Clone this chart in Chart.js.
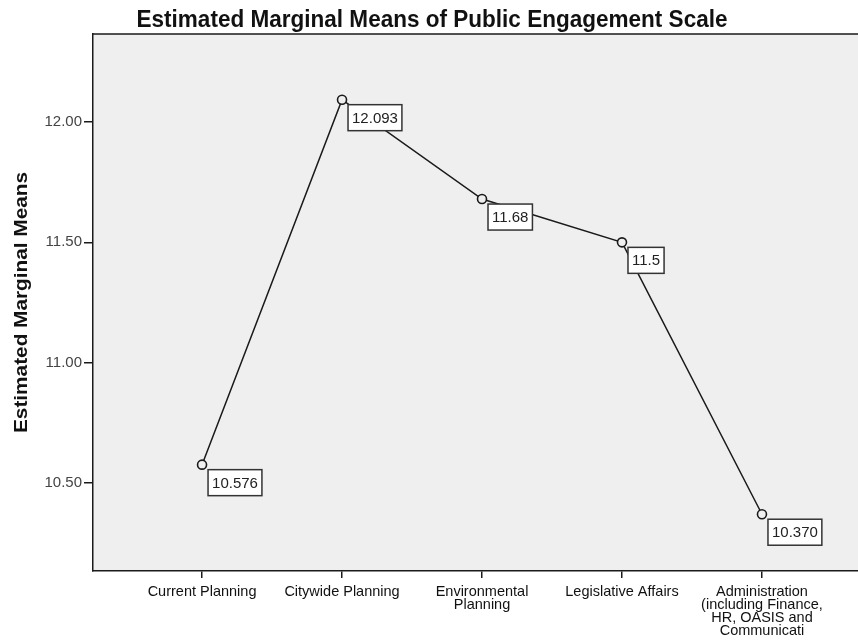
<!DOCTYPE html>
<html>
<head>
<meta charset="utf-8">
<script src="https://cdn.jsdelivr.net/npm/chart.js@4.4.1/dist/chart.umd.min.js"></script>
<style>
  html, body { margin: 0; padding: 0; background: #fff; }
  canvas { display: block; }
</style>
</head>
<body>
<canvas id="meansChart" width="858" height="642"></canvas>
<script>
// Department groups (x axis) and the estimated marginal means for each
var departments = [
    'Current Planning',
    'Citywide Planning',
    ['Environmental', 'Planning'],
    'Legislative Affairs',
    ['Administration', '(including Finance,', 'HR, OASIS and', 'Communicati']
];
var means = [10.576, 12.093, 11.68, 11.5, 10.370];
var meanLabels = ['10.576', '12.093', '11.68', '11.5', '10.370'];
var yTicks = [10.5, 11.0, 11.5, 12.0];

var chartTitle = 'Estimated Marginal Means of Public Engagement Scale';
var yTitle = 'Estimated Marginal Means';

var plotBg = '#efefef';
var ink = '#1a1a1a';
var sans = '"Liberation Sans", Arial, sans-serif';

var points = means.map(function (m, i) { return { x: i, y: m }; });

// draw text squeezed/stretched along its own direction to a given length
function fitText(ctx, txt, x, y, len) {
    var w = ctx.measureText(txt).width;
    ctx.save();
    ctx.translate(x, y);
    ctx.scale(len / w, 1);
    ctx.fillText(txt, 0, 0);
    ctx.restore();
}

// plot background, top frame line, heading and y axis title
var framePlugin = {
    id: 'frame',
    beforeDraw: function (chart) {
        var ctx = chart.ctx, a = chart.chartArea;
        ctx.save();
        ctx.fillStyle = '#fff';
        ctx.fillRect(0, 0, chart.width, chart.height);
        ctx.fillStyle = plotBg;
        ctx.fillRect(a.left, a.top, a.right - a.left, a.bottom - a.top);
        ctx.restore();
    },
    afterDraw: function (chart) {
        var ctx = chart.ctx, a = chart.chartArea;
        ctx.save();
        ctx.strokeStyle = ink;
        ctx.lineWidth = 1.5;
        ctx.beginPath();
        ctx.moveTo(a.left, a.top);
        ctx.lineTo(a.right, a.top);
        ctx.stroke();

        ctx.fillStyle = '#111';
        ctx.textAlign = 'center';
        ctx.textBaseline = 'alphabetic';
        ctx.font = 'bold 24px ' + sans;
        fitText(ctx, chartTitle, 432, 27, 591);

        ctx.font = 'bold 18px ' + sans;
        ctx.textBaseline = 'middle';
        ctx.save();
        ctx.translate(22, (a.top + a.bottom) / 2);
        ctx.rotate(-Math.PI / 2);
        fitText(ctx, yTitle, 0, 0, 261);
        ctx.restore();
        ctx.restore();
    }
};

// boxed value label to the lower right of each point
var valueBoxPlugin = {
    id: 'valueBoxes',
    afterDatasetsDraw: function (chart) {
        var ctx = chart.ctx;
        var meta = chart.getDatasetMeta(0);
        ctx.save();
        ctx.font = '15px ' + sans;
        ctx.textBaseline = 'middle';
        ctx.textAlign = 'left';
        meta.data.forEach(function (pt, i) {
            var txt = meanLabels[i];
            var w = ctx.measureText(txt).width + 8;
            var h = 26;
            var bx = pt.x + 6, by = pt.y + 5;
            ctx.fillStyle = '#fff';
            ctx.fillRect(bx, by, w, h);
            ctx.strokeStyle = '#333';
            ctx.lineWidth = 1.5;
            ctx.strokeRect(bx, by, w, h);
            ctx.fillStyle = '#222';
            ctx.fillText(txt, bx + 4, by + h / 2 + 1);
        });
        ctx.restore();
    }
};

new Chart(document.getElementById('meansChart').getContext('2d'), {
    type: 'line',
    data: {
        datasets: [{
            data: points,
            borderColor: ink,
            borderWidth: 1.5,
            tension: 0,
            pointRadius: 4.5,
            pointBorderWidth: 1.6,
            pointBorderColor: ink,
            pointBackgroundColor: plotBg
        }]
    },
    plugins: [framePlugin, valueBoxPlugin],
    options: {
        responsive: false,
        animation: false,
        layout: { autoPadding: false, padding: { top: 34, left: 0, right: 0, bottom: 0 } },
        plugins: {
            legend: { display: false },
            tooltip: { enabled: false },
            title: { display: false }
        },
        scales: {
            x: {
                type: 'linear',
                min: -0.779,
                max: 4.686,
                afterBuildTicks: function (scale) {
                    scale.ticks = departments.map(function (d, i) { return { value: i }; });
                },
                afterFit: function (scale) {
                    scale.height = 71;
                    scale.paddingLeft = 0;
                    scale.paddingRight = 0;
                },
                ticks: {
                    autoSkip: false,
                    maxRotation: 0,
                    padding: 8,
                    color: '#111',
                    font: { family: sans, size: 14.5, lineHeight: 0.88 },
                    callback: function (value) { return departments[value]; }
                },
                grid: { drawOnChartArea: false, drawTicks: true, tickLength: 7, color: ink, lineWidth: 1.5 },
                border: { display: true, color: ink, width: 1.5 }
            },
            y: {
                min: 10.134,
                max: 12.366,
                afterBuildTicks: function (scale) {
                    scale.ticks = yTicks.map(function (v) { return { value: v }; });
                },
                afterFit: function (scale) { scale.width = 93; },
                ticks: {
                    padding: 2,
                    color: '#444',
                    font: { family: sans, size: 15 },
                    callback: function (value) { return Number(value).toFixed(2); }
                },
                grid: { drawOnChartArea: false, drawTicks: true, tickLength: 9, color: ink, lineWidth: 1.5 },
                border: { display: true, color: ink, width: 1.5 }
            }
        }
    }
});
</script>
</body>
</html>
